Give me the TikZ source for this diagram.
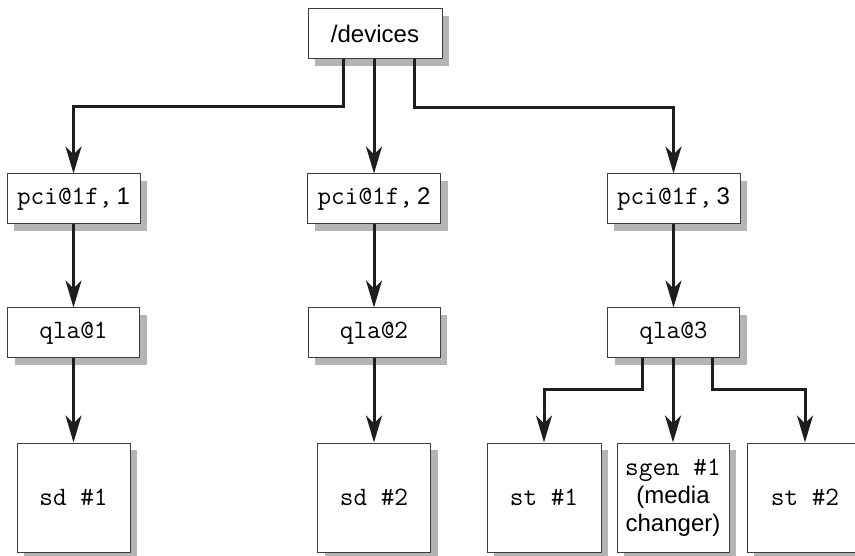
\documentclass[tikz,border=0pt]{standalone}
\usepackage{fontspec}
\setmainfont{Liberation Sans}
\usetikzlibrary{arrows.meta,shadows}
\definecolor{linec}{HTML}{1E1E1E}
\definecolor{boxc}{HTML}{3C3C3C}
\definecolor{shadc}{HTML}{B4B4B4}
\newcommand{\codetxt}[1]{{\ttfamily\fontsize{26.5}{28}\selectfont #1}}
\tikzset{
  box/.style={draw=boxc, line width=1pt, fill=white, inner sep=0pt,
    minimum height=50pt, align=center, font=\fontsize{24}{28}\selectfont,
    drop shadow={shadow xshift=7pt, shadow yshift=-7pt, fill=shadc, opacity=1}},
  leaf/.style={box, minimum height=109pt},
  conn/.style={draw=linec, line width=3pt,
    -{Stealth[length=27pt, width=16pt, inset=8pt]}},
}
\begin{document}
\begin{tikzpicture}[x=1pt, y=-1pt]
\useasboundingbox (0,0) rectangle (855,556);
% top
\node[box, minimum width=134pt] (devices) at (375,34) {/devices};
% pci row
\node[box, minimum width=133pt] (pci1) at (73.5,199) {\codetxt{pci@1f,}\,1};
\node[box, minimum width=133pt] (pci2) at (374,199) {\codetxt{pci@1f,}\,2};
\node[box, minimum width=133pt] (pci3) at (673.5,199) {\codetxt{pci@1f,}\,3};
% qla row
\node[box, minimum width=132pt] (qla1) at (73.5,333) {\codetxt{qla@1}};
\node[box, minimum width=132pt] (qla2) at (374,333) {\codetxt{qla@2}};
\node[box, minimum width=132pt] (qla3) at (673.5,333) {\codetxt{qla@3}};
% leaves
\node[leaf, minimum width=113pt] (sd1) at (73.5,497.5) {\codetxt{sd \#1}};
\node[leaf, minimum width=113pt] (sd2) at (374,497.5) {\codetxt{sd \#2}};
\node[leaf, minimum width=114pt] (st1) at (544,497.5) {\codetxt{st \#1}};
\node[leaf, minimum width=112pt] (sgen) at (673,497.5) {\codetxt{sgen \#1}\\(media\\changer)};
\node[leaf, minimum width=116pt] (st2) at (805,497.5) {\codetxt{st \#2}};
% connectors
\draw[conn] ([xshift=-32pt]devices.south) -- ++(0,47) -| (pci1.north);
\draw[conn] (pci2.north |- devices.south) -- (pci2.north);
\draw[conn] ([xshift=39pt]devices.south) -- ++(0,48) -| (pci3.north);
\draw[conn] (pci1.south) -- (qla1.north);
\draw[conn] (pci2.south) -- (qla2.north);
\draw[conn] (pci3.south) -- (qla3.north);
\draw[conn] (qla1.south) -- (sd1.north);
\draw[conn] (qla2.south) -- (sd2.north);
\draw[conn] ([xshift=-31.5pt]qla3.south) -- ++(0,31) -| (st1.north);
\draw[conn] (sgen.north |- qla3.south) -- (sgen.north);
\draw[conn] ([xshift=38.5pt]qla3.south) -- ++(0,31) -| (st2.north);
\end{tikzpicture}
\end{document}
